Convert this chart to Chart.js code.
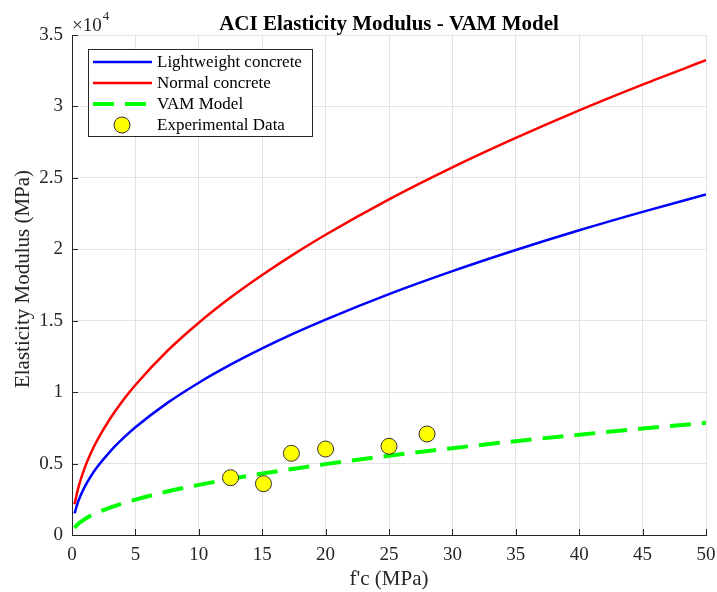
<!DOCTYPE html>
<html lang="en">
<head>
    <meta charset="UTF-8">
    <title>ACI Elasticity Modulus - VAM Model</title>
    <style>
        body { margin: 0; background: #ffffff; }
        .wrap { position: relative; width: 717px; height: 592px; }
    </style>
</head>
<body>
    <div class="wrap">
        <canvas id="chart" width="717" height="592"></canvas>
    </div>
    <script src="https://cdn.jsdelivr.net/npm/chart.js"></script>
    <script>
        // values (MPa)
        const fcValues = [0.2, 0.5, 1, 1.5, 2, 3, 4, 5, 7.5, 10, 12.5, 15, 17.5, 20, 25, 30, 35, 40, 45, 50];
        const lightweight = [1510, 2380, 3370, 4130, 4770, 5840, 6740, 7540, 9230, 10660, 11920, 13060, 14110, 15080, 16860, 18470, 19950, 21330, 22620, 23840];
        const normal = [2150, 3320, 4700, 5760, 6650, 8140, 9400, 10500, 12870, 14860, 16620, 18200, 19660, 21020, 23500, 25740, 27800, 29730, 31530, 33230];
        const vam = [500, 780, 1110, 1360, 1570, 1920, 2220, 2480, 3040, 3510, 3920, 4300, 4640, 4960, 5550, 6080, 6570, 7020, 7450, 7850];
        const expFc = [12.5, 15.1, 17.3, 20, 25, 28];
        const expE = [4010, 3590, 5720, 6020, 6210, 7070];

        const serif = "'Liberation Serif', 'Times New Roman', serif";
        const axisColor = '#262626';

        const toPoints = (xs, ys) => xs.map((x, i) => ({ x: x, y: ys[i] }));

        // title, y label, x10^4 marker, inward ticks and the legend box
        const decorations = {
            id: 'decorations',
            afterDraw(chart) {
                const ctx = chart.ctx;
                const area = chart.chartArea;
                const xs = chart.scales.x;
                const ys = chart.scales.y;
                ctx.save();

                // inward tick marks
                ctx.strokeStyle = axisColor;
                ctx.lineWidth = 1;
                ctx.beginPath();
                xs.ticks.forEach(t => {
                    const px = Math.round(xs.getPixelForValue(t.value)) + 0.5;
                    ctx.moveTo(px, area.bottom);
                    ctx.lineTo(px, area.bottom - 6);
                });
                ys.ticks.forEach(t => {
                    const py = Math.round(ys.getPixelForValue(t.value)) + 0.5;
                    ctx.moveTo(area.left, py);
                    ctx.lineTo(area.left + 6, py);
                });
                ctx.stroke();

                // title
                ctx.fillStyle = '#000000';
                ctx.font = 'bold 21px ' + serif;
                ctx.textAlign = 'center';
                ctx.textBaseline = 'alphabetic';
                ctx.fillText('ACI Elasticity Modulus - VAM Model', (area.left + area.right) / 2, 30);

                // y axis label
                ctx.save();
                ctx.translate(23.5, 279);
                ctx.rotate(-Math.PI / 2);
                ctx.fillStyle = axisColor;
                ctx.font = '21px ' + serif;
                ctx.textBaseline = 'middle';
                ctx.fillText('Elasticity Modulus (MPa)', 0, 0);
                ctx.restore();

                // exponent label
                ctx.fillStyle = axisColor;
                ctx.textAlign = 'left';
                ctx.textBaseline = 'alphabetic';
                ctx.font = '19px ' + serif;
                ctx.fillText('\u00d710', area.left, 31);
                const w = ctx.measureText('\u00d710').width;
                ctx.font = '13px ' + serif;
                ctx.fillText('4', area.left + w + 1, 20);

                // legend
                const bx = area.left + 16, by = area.top + 14, bw = 224, bh = 87;
                ctx.fillStyle = '#ffffff';
                ctx.fillRect(bx, by, bw, bh);
                ctx.strokeStyle = axisColor;
                ctx.lineWidth = 1;
                ctx.strokeRect(bx + 0.5, by + 0.5, bw, bh);

                const rows = [0, 1, 2, 3];
                ctx.font = '17px ' + serif;
                ctx.textBaseline = 'middle';
                rows.forEach(i => {
                    const ds = chart.data.datasets[i];
                    const cy = by + 13 + i * 21;
                    if (ds.type === 'scatter') {
                        ctx.beginPath();
                        ctx.arc(bx + 34, cy, ds.pointRadius, 0, Math.PI * 2);
                        ctx.fillStyle = ds.backgroundColor;
                        ctx.fill();
                        ctx.strokeStyle = ds.borderColor;
                        ctx.lineWidth = ds.borderWidth;
                        ctx.stroke();
                    } else {
                        ctx.strokeStyle = ds.borderColor;
                        ctx.lineWidth = ds.borderWidth;
                        ctx.setLineDash(ds.borderDash || []);
                        ctx.beginPath();
                        ctx.moveTo(bx + 5, cy);
                        ctx.lineTo(bx + 64, cy);
                        ctx.stroke();
                        ctx.setLineDash([]);
                    }
                    ctx.fillStyle = '#000000';
                    ctx.fillText(ds.label, bx + 69, cy + 1);
                });

                ctx.restore();
            }
        };

        new Chart(document.getElementById('chart').getContext('2d'), {
            type: 'line',
            data: {
                datasets: [
                    {
                        label: 'Lightweight concrete',
                        data: toPoints(fcValues, lightweight),
                        borderColor: '#0000ff',
                        borderWidth: 2.5,
                        pointRadius: 0,
                        cubicInterpolationMode: 'monotone',
                        fill: false
                    },
                    {
                        label: 'Normal concrete',
                        data: toPoints(fcValues, normal),
                        borderColor: '#ff0000',
                        borderWidth: 2.5,
                        pointRadius: 0,
                        cubicInterpolationMode: 'monotone',
                        fill: false
                    },
                    {
                        label: 'VAM Model',
                        data: toPoints(fcValues, vam),
                        borderColor: '#00ff00',
                        borderWidth: 4,
                        borderDash: [21, 11],
                        pointRadius: 0,
                        cubicInterpolationMode: 'monotone',
                        fill: false
                    },
                    {
                        type: 'scatter',
                        label: 'Experimental Data',
                        data: toPoints(expFc, expE),
                        backgroundColor: '#ffff00',
                        borderColor: '#333333',
                        borderWidth: 1,
                        pointRadius: 8,
                        order: -1
                    }
                ]
            },
            options: {
                responsive: false,
                animation: false,
                layout: { padding: { left: 0, right: 11, top: 35, bottom: 0 } },
                plugins: {
                    legend: { display: false },
                    title: { display: false },
                    tooltip: { enabled: false }
                },
                scales: {
                    x: {
                        type: 'linear',
                        min: 0,
                        max: 50,
                        ticks: {
                            stepSize: 5,
                            color: axisColor,
                            padding: 9,
                            font: { family: serif, size: 19 }
                        },
                        grid: { color: '#e3e3e3', drawTicks: false },
                        border: { display: true, color: axisColor, width: 1 },
                        title: {
                            display: true,
                            text: "f'c (MPa)",
                            color: axisColor,
                            font: { family: serif, size: 21 },
                            padding: { top: 0, bottom: 0 }
                        },
                        afterFit(scale) {
                            scale.height = 57;
                            scale.paddingLeft = 0;
                            scale.paddingRight = 0;
                        }
                    },
                    y: {
                        min: 0,
                        max: 35000,
                        ticks: {
                            stepSize: 5000,
                            color: axisColor,
                            padding: 9,
                            font: { family: serif, size: 19 },
                            callback: v => String(v / 10000)
                        },
                        grid: { color: '#e3e3e3', drawTicks: false },
                        border: { display: true, color: axisColor, width: 1 },
                        afterFit(scale) { scale.width = 72; }
                    }
                }
            },
            plugins: [decorations]
        });
    </script>
</body>
</html>
